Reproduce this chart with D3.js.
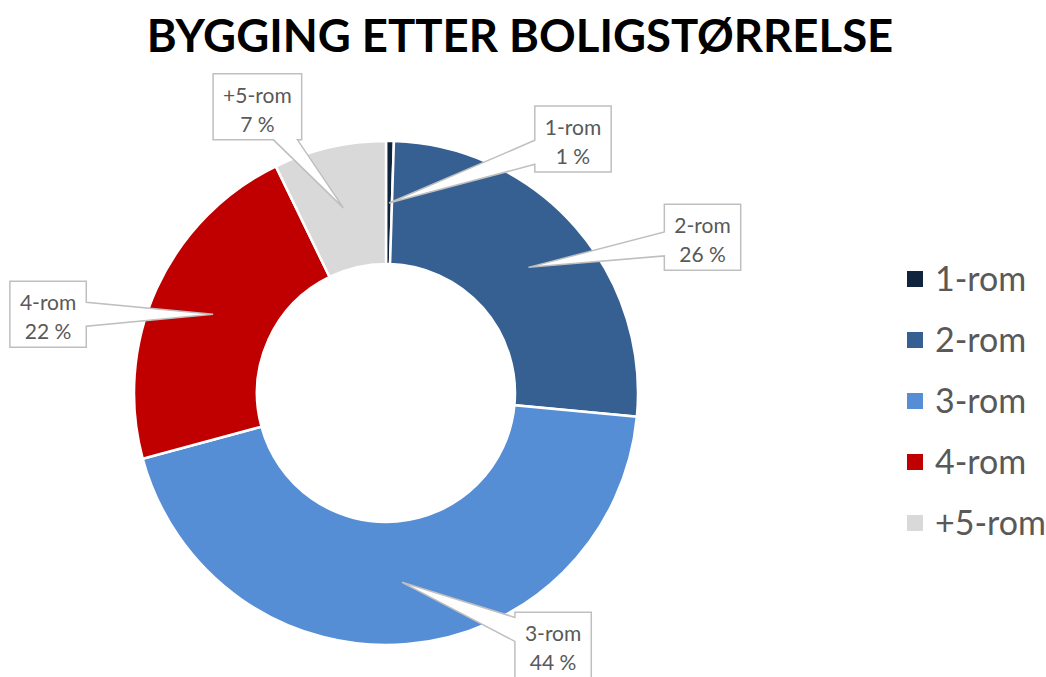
<!DOCTYPE html>
<html>
<head>
<meta charset="utf-8">
<script src="https://cdn.jsdelivr.net/npm/d3@7"></script>
<style>
  body { margin: 0; background: #fff; }
  text { font-family: Lato, "Open Sans", sans-serif; }
</style>
</head>
<body>
<script>
/* data */
var categories = ["1-rom", "2-rom", "3-rom", "4-rom", "+5-rom"];
var shares = [0.5, 26.0, 44.3, 22.0, 7.2];
var colors = ["#10243e", "#366092", "#558ed5", "#c00000", "#d9d9d9"];
var title = "BYGGING ETTER BOLIGSTØRRELSE";

// where each callout box sits, relative to its slice centroid
var calloutOffsets = [[184, -64], [174, -30], [151, 63], [-165, 0], [-86, -101]];

var width = 1046, height = 677;
var cx = 386, cy = 393, outerR = 252, innerR = 129;

var svg = d3.select("body").append("svg")
    .attr("width", width)
    .attr("height", height);

svg.append("text")
    .attr("x", 520)
    .attr("y", 52)
    .attr("text-anchor", "middle")
    .attr("font-size", 45.5)
    .attr("font-weight", "bold")
    .attr("fill", "#000")
    .text(title);

var pie = d3.pie().sort(null).value(function(d) { return d; });
var arcs = pie(shares);
var arc = d3.arc().innerRadius(innerR).outerRadius(outerR);
var midArc = d3.arc().innerRadius(190).outerRadius(190);

var g = svg.append("g").attr("transform", "translate(" + cx + "," + cy + ")");

g.selectAll("path.slice")
  .data(arcs)
  .enter()
  .append("path")
    .attr("class", "slice")
    .attr("d", arc)
    .attr("fill", function(d, i) { return colors[i]; })
    .attr("stroke", "#fff")
    .attr("stroke-width", 2.5);

// callout shape: box with a wedge pointing to the tip
function calloutPath(bx, by, hw, hh, tx, ty, base) {
  var dx = tx - bx, dy = ty - by;
  var x0 = bx - hw, x1 = bx + hw, y0 = by - hh, y1 = by + hh;
  var s = Math.min(hw / Math.abs(dx || 1e-6), hh / Math.abs(dy || 1e-6));
  var ex = bx + dx * s, ey = by + dy * s;
  var pts;
  function clampX(v) { return Math.max(x0 + 2, Math.min(x1 - 2, v)); }
  function clampY(v) { return Math.max(y0 + 2, Math.min(y1 - 2, v)); }
  if (Math.abs(dx) * hh > Math.abs(dy) * hw) {
    var a = clampY(ey - base / 2), b = clampY(ey + base / 2);
    if (dx > 0) {
      pts = [[x0, y0], [x1, y0], [x1, a], [tx, ty], [x1, b], [x1, y1], [x0, y1]];
    } else {
      pts = [[x0, y0], [x1, y0], [x1, y1], [x0, y1], [x0, b], [tx, ty], [x0, a]];
    }
  } else {
    var a2 = clampX(ex - base / 2), b2 = clampX(ex + base / 2);
    if (dy > 0) {
      pts = [[x0, y0], [x1, y0], [x1, y1], [b2, y1], [tx, ty], [a2, y1], [x0, y1]];
    } else {
      pts = [[x0, y0], [a2, y0], [tx, ty], [b2, y0], [x1, y0], [x1, y1], [x0, y1]];
    }
  }
  return "M" + pts.map(function(p) { return p.join(","); }).join("L") + "Z";
}

var labels = svg.append("g").attr("transform", "translate(" + cx + "," + cy + ")");

arcs.forEach(function(d, i) {
  var tip = midArc.centroid(d);
  var bx = tip[0] + calloutOffsets[i][0];
  var by = tip[1] + calloutOffsets[i][1];
  var lg = labels.append("g");
  var t1 = lg.append("text")
      .attr("x", bx).attr("y", by - 4)
      .attr("text-anchor", "middle")
      .attr("font-size", 21)
      .attr("fill", "#595959")
      .text(categories[i]);
  var t2 = lg.append("text")
      .attr("x", bx).attr("y", by + 25)
      .attr("text-anchor", "middle")
      .attr("font-size", 21)
      .attr("fill", "#595959")
      .text(Math.round(d.data) + " %");
  var w = Math.max(t1.node().getComputedTextLength(), t2.node().getComputedTextLength());
  var hw = w / 2 + 10, hh = 33;
  lg.insert("path", "text")
    .attr("d", calloutPath(bx, by, hw, hh, tip[0], tip[1], 24))
    .attr("fill", "#fff")
    .attr("stroke", "#bfbfbf")
    .attr("stroke-width", 1.5);
});

var legend = svg.append("g").attr("transform", "translate(907,279)");
var rows = legend.selectAll("g")
  .data(categories)
  .enter()
  .append("g")
    .attr("transform", function(d, i) { return "translate(0," + (i * 61) + ")"; });
rows.append("rect")
    .attr("x", 0).attr("y", -8)
    .attr("width", 16).attr("height", 16)
    .attr("fill", function(d, i) { return colors[i]; });
rows.append("text")
    .attr("x", 28).attr("y", 12)
    .attr("font-size", 34)
    .attr("fill", "#595959")
    .text(function(d) { return d; });
</script>
</body>
</html>
